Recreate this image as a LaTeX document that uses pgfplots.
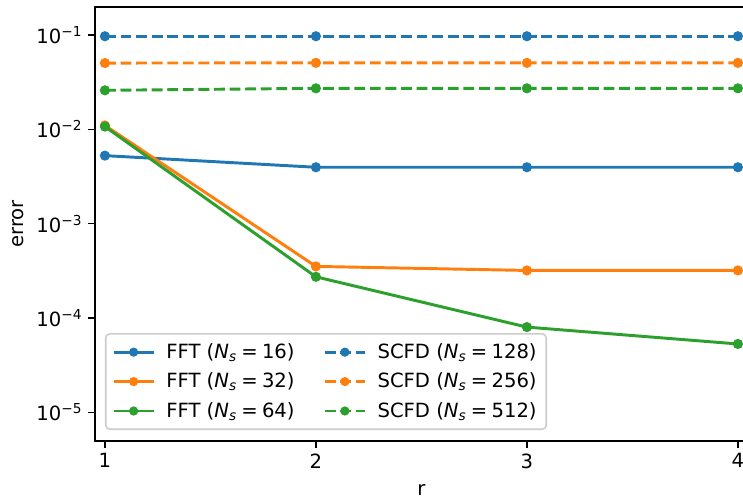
\documentclass[border=0pt]{standalone}
\usepackage{fontspec}
\setmainfont{DejaVu Sans}
\usepackage{pgfplots}
\pgfplotsset{compat=1.18}
\usetikzlibrary{calc}
\definecolor{c0}{HTML}{1F77B4}
\definecolor{c1}{HTML}{FF7F0E}
\definecolor{c2}{HTML}{2CA02C}
\newcommand{\Ns}[1]{(\textit{N\textsubscript{s}}\hspace{0.22em}=\hspace{0.22em}#1)}

\begin{document}
\begin{tikzpicture}
  \begin{axis}[
      scale only axis, width=408pt, height=271.25pt,
      xmin=0.953, xmax=4.047,
      ymode=log, ymin=4.96e-6, ymax=0.198,
      xtick={1,2,3,4}, xticklabels={1,2,3,4},
      ytick={1e-5,1e-4,1e-3,1e-2,1e-1},
      yticklabels={10\textsuperscript{−5},10\textsuperscript{−4},10\textsuperscript{−3},10\textsuperscript{−2},10\textsuperscript{−1}},
      minor y tick num=0, minor tick length=0pt,
      tick align=outside, tick pos=left, major tick length=4.3pt,
      tick style={black, line width=0.98pt},
      axis line style={line width=0.98pt},
      tick label style={font=\fontsize{12.25}{14.7}\selectfont},
      xlabel={r}, ylabel={error},
      xlabel style={at={(axis description cs:0.5,-0.1128)}, anchor=center},
      ylabel style={at={(axis description cs:-0.1176,0.5)}, anchor=center},
      label style={font=\fontsize{12.25}{14.7}\selectfont},
      every axis plot/.append style={line width=1.84pt, mark=*, mark size=2.2pt, mark options={solid}},
      legend columns=2, legend cell align=left,
      legend style={at={(axis description cs:0.0153,0.0253)}, anchor=south west,
        draw=black!20, line width=0.98pt, rounded corners=2.5pt, fill=white, fill opacity=0.8, text opacity=1,
        font=\fontsize{12.25}{14.7}\selectfont, row sep=3.6pt, inner sep=4pt,
        /tikz/every odd column/.append style={column sep=5pt},
        /tikz/every even column/.append style={column sep=16pt}},
      legend image code/.code={\draw[mark repeat=2, mark phase=2, #1, line width=1.84pt, mark size=1.9pt] plot coordinates {(0pt,0pt) (12.5pt,0pt) (25pt,0pt)};},
    ]
    \addplot[c0] coordinates {(1,5.26e-3) (2,3.96e-3) (3,3.96e-3) (4,3.96e-3)};
    \addlegendentry{FFT \Ns{16}}
    \addplot[c0, dash pattern=on 6.8pt off 2.94pt] coordinates {(1,0.097) (2,0.097) (3,0.097) (4,0.097)};
    \addlegendentry{SCFD \Ns{128}}
    \addplot[c1] coordinates {(1,1.1e-2) (2,3.52e-4) (3,3.19e-4) (4,3.19e-4)};
    \addlegendentry{FFT \Ns{32}}
    \addplot[c1, dash pattern=on 6.8pt off 2.94pt] coordinates {(1,0.0504) (2,0.0506) (3,0.0506) (4,0.0506)};
    \addlegendentry{SCFD \Ns{256}}
    \addplot[c2] coordinates {(1,1.07e-2) (2,2.73e-4) (3,8.0e-5) (4,5.3e-5)};
    \addlegendentry{FFT \Ns{64}}
    \addplot[c2, dash pattern=on 6.8pt off 2.94pt] coordinates {(1,0.0259) (2,0.0272) (3,0.0272) (4,0.0272)};
    \addlegendentry{SCFD \Ns{512}}
  \end{axis}
  \pgfresetboundingbox
  \path ($(current axis.south west)+(-59.375pt,-35.625pt)$) rectangle ($(current axis.north west)+(405pt,4.375pt)$);
\end{tikzpicture}
\end{document}
